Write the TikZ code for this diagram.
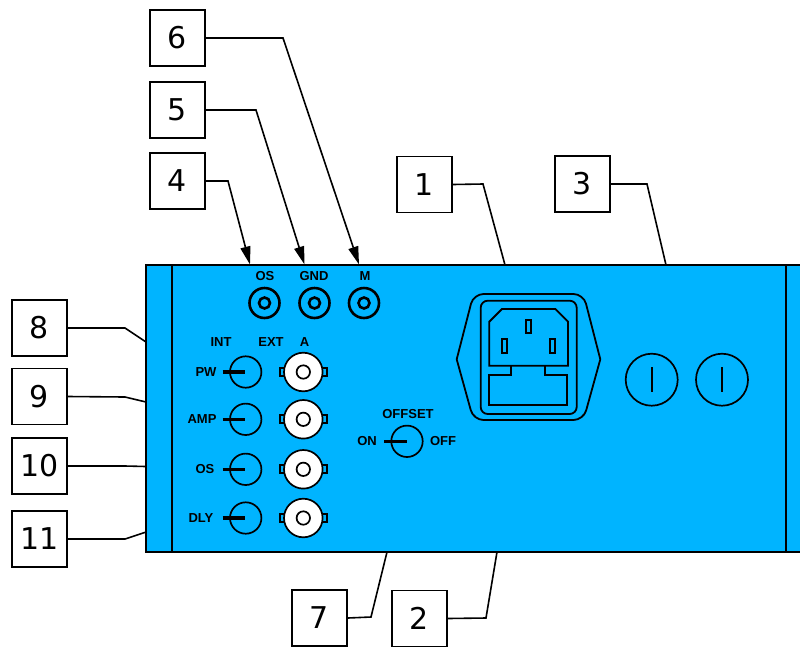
\documentclass[tikz,border=0pt]{standalone}
\usepackage{fontspec}
\setmainfont{DejaVu Sans}
\newfontfamily\panelfont{Liberation Sans}
\usetikzlibrary{arrows.meta}
\definecolor{panelblue}{HTML}{00B4FF}
\tikzset{
    numbox/.style={draw, line width=1.6pt, fill=white, minimum width=55pt, minimum height=56pt, inner sep=0pt, font=\fontsize{30}{30}\selectfont},
    conn/.style={line width=1.6pt},
    connarrow/.style={line width=1.6pt, -{Triangle[length=18pt,width=10pt]}},
    panellabel/.style={inner sep=0pt, font=\panelfont\bfseries\fontsize{13}{13}\selectfont},
    knob/.style={line width=1.7pt},
    knobbar/.style={line width=3.4pt},
    jack/.style={line width=2.6pt},
    outline/.style={line width=1.8pt}
}
\begin{document}
\begin{tikzpicture}[x=1pt,y=-1pt]
    \useasboundingbox (0,0) rectangle (800,646);

    % Bend points and free ends of the leader lines
    \coordinate (b1) at (483,184);
    \coordinate (e1) at (505,265);
    \coordinate (b2) at (486,618);
    \coordinate (e2) at (497,552);
    \coordinate (b3) at (647,184);
    \coordinate (e3) at (666,265);
    \coordinate (b4) at (228,181);
    \coordinate (e4) at (250,264.5);
    \coordinate (b5) at (256,110);
    \coordinate (e5) at (304.5,264.5);
    \coordinate (b6) at (283,38);
    \coordinate (e6) at (359,264.5);
    \coordinate (b7) at (371,617);
    \coordinate (e7) at (387,552);
    \coordinate (b8) at (125,328);
    \coordinate (e8) at (146,342);
    \coordinate (b9) at (125,397);
    \coordinate (e9) at (146,402);
    \coordinate (b10) at (125,466);
    \coordinate (e10) at (146,466.5);
    \coordinate (b11) at (125,539);
    \coordinate (e11) at (146,532);

    % Panel
    \fill[panelblue] (146,265) rectangle (800,552);
    \draw[outline] (800,265) -- (146,265) -- (146,552) -- (800,552);
    \draw[outline] (172,265) -- (172,552);
    \draw[outline] (786,265) -- (786,552);

    % Number boxes
    \node[numbox] (n1) at (424.5,184.5) {1};
    \node[numbox] (n2) at (419.5,618.5) {2};
    \node[numbox] (n3) at (582.5,184) {3};
    \node[numbox] (n4) at (177.5,181) {4};
    \node[numbox] (n5) at (177.5,110) {5};
    \node[numbox] (n6) at (177.5,38) {6};
    \node[numbox] (n7) at (319.5,618) {7};
    \node[numbox] (n8) at (39.5,328) {8};
    \node[numbox] (n9) at (39.5,396.5) {9};
    \node[numbox] (n10) at (39.5,466) {10};
    \node[numbox] (n11) at (39.5,539) {11};

    % Leader lines
    \draw[conn] (n1.east) -- (b1) -- (e1);
    \draw[conn] (n2.east) -- (b2) -- (e2);
    \draw[conn] (n3.east) -- (b3) -- (e3);
    \draw[connarrow] (n4.east) -- (b4) -- (e4);
    \draw[connarrow] (n5.east) -- (b5) -- (e5);
    \draw[connarrow] (n6.east) -- (b6) -- (e6);
    \draw[conn] (n7.east) -- (b7) -- (e7);
    \draw[conn] (n8.east) -- (b8) -- (e8);
    \draw[conn] (n9.east) -- (b9) -- (e9);
    \draw[conn] (n10.east) -- (b10) -- (e10);
    \draw[conn] (n11.east) -- (b11) -- (e11);

    % Top jacks
    \draw[jack] (264.5,303) circle (15);
    \draw[jack] (264.5,303) circle (5.5);
    \draw[jack] (314.5,303) circle (15);
    \draw[jack] (314.5,303) circle (5.5);
    \draw[jack] (364,303) circle (15);
    \draw[jack] (364,303) circle (5.5);

    % Knobs
    \draw[knob] (245.7,372) circle (15.7);
    \draw[knobbar] (222.7,372) -- (245.3,372);
    \draw[knob] (245.7,419.3) circle (15.7);
    \draw[knobbar] (222.7,419.3) -- (245.3,419.3);
    \draw[knob] (245.7,469.3) circle (15.7);
    \draw[knobbar] (222.7,469.3) -- (245.3,469.3);
    \draw[knob] (245.7,518) circle (15.7);
    \draw[knobbar] (222.7,518) -- (245.3,518);
    \draw[knob] (407,441.3) circle (15.7);
    \draw[knobbar] (384,441.3) -- (406.7,441.3);

    % BNC sockets
    \draw[knob] (279.7,368) rectangle (326.7,376);
    \draw[knob, fill=white] (303.3,372) circle (19.3);
    \draw[knob] (303.3,372) circle (6.7);
    \draw[knob] (279.7,415.3) rectangle (326.7,423.3);
    \draw[knob, fill=white] (303.3,419.3) circle (19.3);
    \draw[knob] (303.3,419.3) circle (6.7);
    \draw[knob] (279.7,465.3) rectangle (326.7,473.3);
    \draw[knob, fill=white] (303.3,469.3) circle (19.3);
    \draw[knob] (303.3,469.3) circle (6.7);
    \draw[knob] (279.7,514) rectangle (326.7,522);
    \draw[knob, fill=white] (303.3,518) circle (19.3);
    \draw[knob] (303.3,518) circle (6.7);

    % Mains inlet
    \draw[outline] (456.7,359.3) [rounded corners=10pt] -- (473.5,294) -- (583.5,294) [sharp corners] -- (600.3,359.3) [rounded corners=10pt] -- (583.5,420) -- (473.5,420) [sharp corners] -- cycle;
    \draw[outline, rounded corners=7pt] (480.7,300.7) rectangle (576.7,414);
    \draw[outline] (489.3,321.7) -- (502,309) -- (555.3,309) -- (568,321.7) -- (568,365.7) -- (489.3,365.7) -- cycle;
    \draw[outline] (526,319.7) rectangle (531,333.3);
    \draw[outline] (502,339) rectangle (507.3,352.7);
    \draw[outline] (550,339) rectangle (555.3,352.7);
    \draw[outline] (510.7,365.7) -- (510.7,375) -- (489.3,375) -- (489.3,405) -- (567.3,405) -- (567.3,375) -- (544.7,375) -- (544.7,365.7);

    % Round switches
    \draw[knob] (651.7,379.7) circle (26);
    \draw[knob] (651.7,367.3) -- (651.7,392.3);
    \draw[knob] (722,379.7) circle (26);
    \draw[knob] (722,367.3) -- (722,392.3);

    % Panel labels
    \node[panellabel] (losj) at (265,276) {OS};
    \node[panellabel] (lgnd) at (314,276) {GND};
    \node[panellabel] (lm) at (365,276) {M};
    \node[panellabel] (lint) at (221,342) {INT};
    \node[panellabel] (lext) at (271,342) {EXT};
    \node[panellabel] (la) at (304.5,342) {A};
    \node[panellabel] (lpw) at (206,372) {PW};
    \node[panellabel] (lamp) at (202,419) {AMP};
    \node[panellabel] (los) at (205,469.5) {OS};
    \node[panellabel] (ldly) at (201,518) {DLY};
    \node[panellabel] (loffset) at (408,414) {OFFSET};
    \node[panellabel] (lon) at (367,441.5) {ON};
    \node[panellabel] (loff) at (443,441.5) {OFF};

\end{tikzpicture}
\end{document}
